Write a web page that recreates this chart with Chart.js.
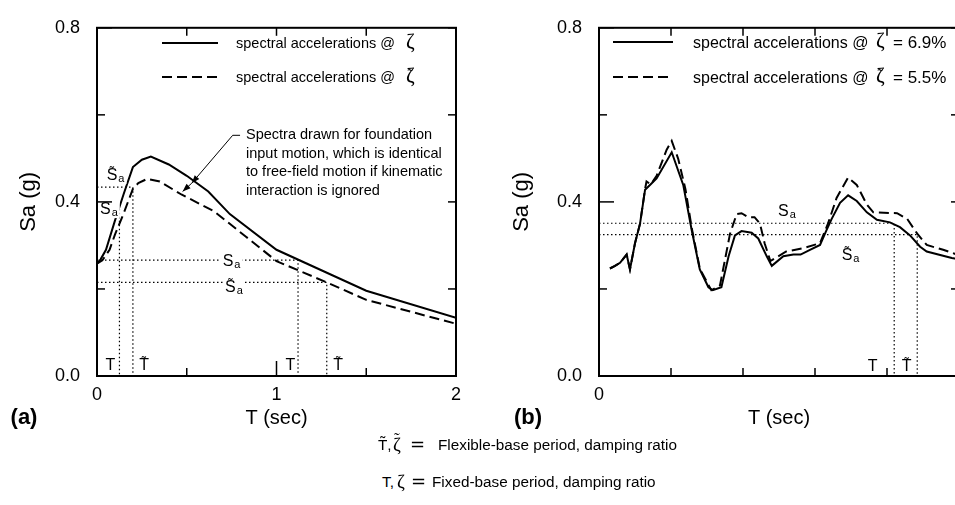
<!DOCTYPE html>
<html><head><meta charset="utf-8">
<script src="https://cdn.jsdelivr.net/npm/chart.js@4.4.1/dist/chart.umd.min.js"></script>
<style>
html,body{margin:0;padding:0;background:#fff;overflow:hidden;width:955px;height:505px;}
#wrap{position:relative;width:955px;height:505px;overflow:hidden;}
canvas{position:absolute;top:0;}
#ca{left:0;} #cb{left:480px;}
.note{position:absolute;font-family:'Liberation Sans',Arial,sans-serif;font-size:15.3px;line-height:18px;color:#000;white-space:nowrap;}
.sym{font-family:'Liberation Serif','DejaVu Serif',serif;font-size:19px;position:relative;}
.til{position:absolute;left:1px;top:-4px;font-family:'Liberation Serif','DejaVu Serif',serif;font-size:17px;}
.eq{font-family:'DejaVu Sans',sans-serif;font-size:18px;}
</style></head><body>
<div id="wrap">
<canvas id="ca" width="478" height="440"></canvas>
<canvas id="cb" width="490" height="440"></canvas>
<div class="note" style="left:378px;top:436px;">T̃,</div>
<div class="note" style="left:393px;top:436px;"><span class="sym">ζ<span class="til">˜</span></span></div>
<div class="note" style="left:410px;top:435px;"><span class="eq">=</span></div>
<div class="note" style="left:438px;top:436px;">Flexible-base period, damping ratio</div>
<div class="note" style="left:382px;top:473px;">T,</div>
<div class="note" style="left:397px;top:473px;"><span class="sym">ζ</span></div>
<div class="note" style="left:411px;top:472px;"><span class="eq">=</span></div>
<div class="note" style="left:432px;top:473px;">Fixed-base period, damping ratio</div>
</div>
<script>
// ---------------- data: panel (a) ----------------
const tA_fixed  = [0, 0.02, 0.05, 0.1, 0.15, 0.2, 0.25, 0.3, 0.4, 0.5, 0.62, 0.74, 1.0, 1.25, 1.5, 2.0];
const saA_fixed = [0.258, 0.268, 0.29, 0.357, 0.42, 0.48, 0.497, 0.504, 0.486, 0.46, 0.424, 0.372, 0.29, 0.243, 0.196, 0.134];
const tA_flex   = [0, 0.03, 0.07, 0.1, 0.147, 0.2, 0.23, 0.28, 0.35, 0.47, 0.65, 0.83, 1.0, 1.28, 1.5, 2.0];
const saA_flex  = [0.258, 0.266, 0.29, 0.325, 0.372, 0.43, 0.443, 0.453, 0.447, 0.417, 0.379, 0.32, 0.264, 0.215, 0.175, 0.12];
const refA_T    = [0.125, 1.12];   // fixed-base periods
const refA_Sa   = [0.388, 0.266];
const refA_Tt   = [0.2, 1.28];     // flexible-base periods
const refA_St   = [0.434, 0.215];
const xLabelsA  = [0, 1, 2];
const yLabels   = [0, 0.4, 0.8];
const legendMainA = ['spectral accelerations @', 'spectral accelerations @'];
const legendSymA  = ['ζ', 'ζ̃'];
const legendTailA = ['', ''];

// ---------------- data: panel (b) ----------------
const tB_fixed  = [0.076, 0.111, 0.146, 0.192, 0.215, 0.25, 0.285, 0.32, 0.354, 0.4, 0.505, 0.585, 0.644, 0.70, 0.76, 0.79, 0.85, 0.90, 0.944, 0.99, 1.06, 1.106, 1.165, 1.2, 1.28, 1.35, 1.40, 1.465, 1.535, 1.58, 1.616, 1.674, 1.73, 1.79, 1.86, 1.93, 2.02, 2.09, 2.16, 2.23, 2.276, 2.45, 2.5];
const saB_fixed = [0.247, 0.253, 0.26, 0.279, 0.245, 0.305, 0.35, 0.428, 0.439, 0.454, 0.514, 0.439, 0.335, 0.245, 0.204, 0.197, 0.204, 0.275, 0.323, 0.333, 0.329, 0.316, 0.275, 0.253, 0.275, 0.279, 0.279, 0.29, 0.301, 0.335, 0.361, 0.398, 0.415, 0.402, 0.376, 0.359, 0.353, 0.342, 0.323, 0.297, 0.286, 0.271, 0.268];
const tB_flex   = [0.076, 0.111, 0.146, 0.192, 0.215, 0.25, 0.285, 0.32, 0.33, 0.36, 0.4, 0.47, 0.505, 0.55, 0.60, 0.644, 0.70, 0.78, 0.84, 0.91, 0.956, 0.99, 1.036, 1.08, 1.118, 1.15, 1.19, 1.30, 1.42, 1.535, 1.59, 1.65, 1.73, 1.79, 1.86, 1.905, 2.07, 2.14, 2.21, 2.276, 2.39, 2.47, 2.5];
const saB_flex  = [0.247, 0.253, 0.26, 0.279, 0.245, 0.305, 0.35, 0.43, 0.447, 0.44, 0.46, 0.52, 0.54, 0.499, 0.43, 0.34, 0.247, 0.197, 0.208, 0.327, 0.372, 0.374, 0.365, 0.365, 0.35, 0.305, 0.264, 0.286, 0.294, 0.305, 0.35, 0.409, 0.456, 0.439, 0.394, 0.376, 0.374, 0.361, 0.327, 0.301, 0.29, 0.281, 0.278];
const refB_T    = [2.05];
const refB_Sa   = [0.351];
const refB_Tt   = [2.21];
const refB_St   = [0.325];
const xLabelsB  = [0];
const legendMainB = ['spectral accelerations @', 'spectral accelerations @'];
const legendSymB  = ['ζ', 'ζ̃'];
const legendTailB = ['= 6.9%', '= 5.5%'];

// ---------------- helpers ----------------
const FAM = "'Liberation Sans', Arial, Helvetica, sans-serif";
const SERIF = "'Liberation Serif', 'DejaVu Serif', serif";
const TILDE = '\u0303';
Chart.defaults.font.family = FAM;
Chart.defaults.color = '#000';

const pts = (xs, ys) => xs.map((x, i) => ({x: x, y: ys[i]}));
const refLine = (T, S) => [{x: 0, y: S}, {x: T, y: S}, {x: T, y: 0}];
const near = (v, list) => list.some(t => Math.abs(t - v) < 1e-6);

function buildDatasets(tF, sF, tX, sX, rT, rS, rTt, rSt, main, sym, tail) {
  const ds = [];
  const dot = {borderColor: '#000', borderWidth: 1.2, borderDash: [1.5, 2.5], pointRadius: 0, fill: false, tension: 0};
  rT.forEach((T, i) => ds.push(Object.assign({label: 'Sa', data: refLine(T, rS[i])}, dot)));
  rTt.forEach((T, i) => ds.push(Object.assign({label: 'S̃a', data: refLine(T, rSt[i])}, dot)));
  ds.push({label: [main[0], sym[0], tail[0]].join(' ').trim(), data: pts(tF, sF), borderColor: '#000', borderWidth: 2,
           pointRadius: 0, fill: false, tension: 0, isCurve: true, legMain: main[0], legSym: sym[0], legTail: tail[0]});
  ds.push({label: [main[1], sym[1], tail[1]].join(' ').trim(), data: pts(tX, sX), borderColor: '#000', borderWidth: 2,
           borderDash: [10, 5], pointRadius: 0, fill: false, tension: 0, isCurve: true, legMain: main[1], legSym: sym[1], legTail: tail[1]});
  return ds;
}

function seg(ctx, x1, y1, x2, y2) { ctx.beginPath(); ctx.moveTo(x1, y1); ctx.lineTo(x2, y2); ctx.stroke(); }

// draws a base letter and, if it carries a combining tilde, a small tilde centred above it
function letter(ctx, s, x, y, size, fam, tildeLift) {
  const hasT = s.indexOf(TILDE) >= 0;
  const base = s.replace(TILDE, '');
  ctx.font = size + 'px ' + fam;
  ctx.fillText(base, x, y);
  const w = ctx.measureText(base).width;
  if (hasT) {
    const al = ctx.textAlign;
    ctx.textAlign = 'center';
    ctx.font = Math.round(size * 0.8) + 'px ' + fam;
    ctx.fillText('˜', x + w / 2, y - tildeLift);
    ctx.textAlign = al;
  }
  return w;
}

const decor = {
  id: 'decor',
  afterDatasetsDraw(chart) {
    const o = chart.options.plugins.decor;
    const ctx = chart.ctx, a = chart.chartArea;
    const xs = chart.scales.x, ys = chart.scales.y;
    const X = v => xs.getPixelForValue(v), Y = v => ys.getPixelForValue(v);
    ctx.save();
    ctx.fillStyle = '#000';
    ctx.strokeStyle = '#000';
    // text marks (T, S labels)
    o.marks.forEach(m => {
      ctx.textBaseline = 'alphabetic';
      ctx.textAlign = 'left';
      const base = m.text.replace(TILDE, '');
      ctx.font = '16px ' + FAM;
      const w1 = ctx.measureText(base).width;
      let w2 = 0;
      if (m.sub) { ctx.font = '11px ' + FAM; w2 = ctx.measureText(m.sub).width + 1; }
      const px = X(m.x), py = Y(m.y);
      const left = m.center ? px - (w1 + w2) / 2 : px;
      if (m.bg) { ctx.fillStyle = '#fff'; ctx.fillRect(left - 2, py - 17, w1 + w2 + 4, 21); ctx.fillStyle = '#000'; }
      letter(ctx, m.text, left, py, 16, FAM, 4);
      if (m.sub) { ctx.font = '11px ' + FAM; ctx.fillText(m.sub, left + w1 + 1, py + 2); }
    });
    // annotation with leader arrows
    if (o.note) {
      const n = o.note;
      ctx.font = n.size + 'px ' + FAM;
      ctx.textBaseline = 'middle';
      ctx.textAlign = 'left';
      n.lines.forEach((s, i) => ctx.fillText(s, X(n.x), Y(n.y) + i * n.step));
      ctx.lineWidth = 1;
      ctx.setLineDash([]);
      ctx.beginPath();
      n.leader.forEach((p, i) => { const px = X(p[0]), py = Y(p[1]); if (i) ctx.lineTo(px, py); else ctx.moveTo(px, py); });
      ctx.stroke();
      n.heads.forEach(k => {
        const p = n.leader[k], q = n.leader[k - 1];
        const px = X(p[0]), py = Y(p[1]);
        const ang = Math.atan2(py - Y(q[1]), px - X(q[0]));
        const L = 8, W = 3;
        ctx.beginPath();
        ctx.moveTo(px, py);
        ctx.lineTo(px - L * Math.cos(ang) + W * Math.sin(ang), py - L * Math.sin(ang) - W * Math.cos(ang));
        ctx.lineTo(px - L * Math.cos(ang) - W * Math.sin(ang), py - L * Math.sin(ang) + W * Math.cos(ang));
        ctx.closePath();
        ctx.fill();
      });
    }
    // legend
    const lg = o.legend;
    chart.data.datasets.filter(d => d.isCurve).forEach((d, i) => {
      const y = lg.ys[i];
      ctx.lineWidth = d.borderWidth;
      ctx.setLineDash(d.borderDash || []);
      seg(ctx, lg.x1, y, lg.x2, y);
      ctx.setLineDash([]);
      ctx.textBaseline = 'alphabetic';
      ctx.textAlign = 'left';
      ctx.font = lg.size + 'px ' + FAM;
      ctx.fillText(d.legMain, lg.textX, y + lg.size * 0.36);
      letter(ctx, d.legSym, lg.symX, y + 5, lg.symSize, SERIF, 2);
      if (d.legTail) { ctx.font = (lg.size + 1) + 'px ' + FAM; ctx.fillText(d.legTail, lg.tailX, y + 6); }
    });
    // frame and inward ticks
    ctx.setLineDash([]);
    ctx.lineWidth = 2;
    ctx.strokeRect(a.left, a.top, a.right - a.left, a.bottom - a.top);
    ctx.lineWidth = 1.5;
    xs.ticks.forEach(t => {
      const p = X(t.value);
      const major = near(t.value, o.xMajor);
      seg(ctx, p, a.bottom, p, a.bottom - (major ? 15 : 8));
      seg(ctx, p, a.top, p, a.top + 8);
    });
    ys.ticks.forEach(t => {
      const p = Y(t.value);
      const major = near(t.value, yLabels);
      seg(ctx, a.left, p, a.left + (major ? 15 : 8), p);
      seg(ctx, a.right, p, a.right - 8, p);
    });
    // panel tag
    ctx.font = 'bold 22px ' + FAM;
    ctx.textAlign = 'center';
    ctx.textBaseline = 'middle';
    ctx.fillText(o.tag.text, o.tag.x, o.tag.y);
    ctx.restore();
  }
};

function makeChart(id, cfg) {
  return new Chart(document.getElementById(id), {
    type: 'line',
    data: {datasets: cfg.datasets},
    options: {
      responsive: false, animation: false, devicePixelRatio: 1,
      layout: {padding: {top: cfg.padTop, right: cfg.padRight, bottom: 0, left: 0}},
      plugins: {legend: {display: false}, tooltip: {enabled: false}, decor: cfg.decor},
      scales: {
        x: {
          type: 'linear', min: 0, max: cfg.xMax,
          grid: {display: false, drawTicks: false}, border: {display: false},
          ticks: {stepSize: 0.5, autoSkip: false, maxRotation: 0, padding: 8, font: {size: 18},
                  callback: v => near(v, cfg.xLabels) ? String(Math.round(v)) : ''},
          title: {display: true, text: 'T (sec)', font: {size: 20}, padding: {top: 0, bottom: 10}},
          afterFit: s => { s.height = 64; }
        },
        y: {
          min: 0, max: 0.8,
          grid: {display: false, drawTicks: false}, border: {display: false},
          ticks: {stepSize: 0.2, autoSkip: false, padding: 17, font: {size: 18},
                  callback: v => near(v, yLabels) ? v.toFixed(1) : ''},
          title: {display: true, text: 'Sa (g)', font: {size: 22}, padding: {top: cfg.yTitlePad, bottom: 0}},
          afterFit: s => { s.width = cfg.yWidth; }
        }
      }
    },
    plugins: [decor]
  });
}

makeChart('ca', {
  datasets: buildDatasets(tA_fixed, saA_fixed, tA_flex, saA_flex, refA_T, refA_Sa, refA_Tt, refA_St, legendMainA, legendSymA, legendTailA),
  xMax: 2, xLabels: xLabelsA, padTop: 19, padRight: 22, yWidth: 97, yTitlePad: 16,
  decor: {
    xMajor: xLabelsA,
    legend: {x1: 162, x2: 218, ys: [43, 77], textX: 236, symX: 406, tailX: 0, size: 14.5, symSize: 21},
    marks: [
      {text: 'T', x: 0.075, y: 0.013, center: true},
      {text: 'T̃', x: 0.262, y: 0.013, center: true},
      {text: 'T', x: 1.077, y: 0.013, center: true},
      {text: 'T̃', x: 1.343, y: 0.013, center: true},
      {text: 'S̃', sub: 'a', x: 0.054, y: 0.450, bg: true},
      {text: 'S', sub: 'a', x: 0.0167, y: 0.372, bg: true},
      {text: 'S', sub: 'a', x: 0.70, y: 0.253, bg: true},
      {text: 'S̃', sub: 'a', x: 0.713, y: 0.193, bg: true}
    ],
    note: {
      lines: ['Spectra drawn for foundation', 'input motion, which is identical', 'to free-field motion if kinematic', 'interaction is ignored'],
      x: 0.83, y: 0.553, step: 18.4, size: 14.5,
      leader: [[0.797, 0.553], [0.756, 0.553], [0.528, 0.443], [0.477, 0.424]],
      heads: [2, 3]
    },
    tag: {text: '(a)', x: 24, y: 418}
  }
});

makeChart('cb', {
  datasets: buildDatasets(tB_fixed, saB_fixed, tB_flex, saB_flex, refB_T, refB_Sa, refB_Tt, refB_St, legendMainB, legendSymB, legendTailB),
  xMax: 2.5, xLabels: xLabelsB, padTop: 18, padRight: 11, yWidth: 119, yTitlePad: 29,
  decor: {
    xMajor: xLabelsB,
    legend: {x1: 133, x2: 193, ys: [42, 77], textX: 213, symX: 396, tailX: 413, size: 16, symSize: 21},
    marks: [
      {text: 'T', x: 1.90, y: 0.011, center: true},
      {text: 'T̃', x: 2.137, y: 0.011, center: true},
      {text: 'S', sub: 'a', x: 1.243, y: 0.368, bg: true},
      {text: 'S̃', sub: 'a', x: 1.685, y: 0.267, bg: true}
    ],
    note: null,
    tag: {text: '(b)', x: 48, y: 418}
  }
});
</script>
</body></html>
